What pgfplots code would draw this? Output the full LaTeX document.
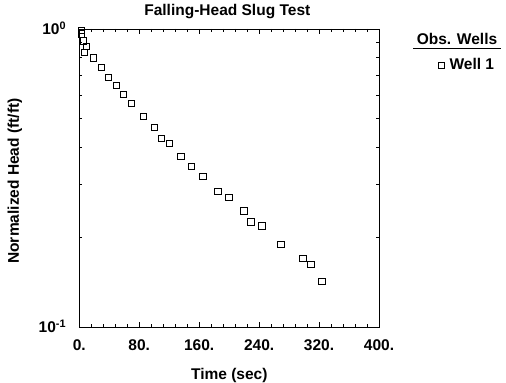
\documentclass[border=0pt]{standalone}
\usepackage{fontspec}
\setmainfont{Liberation Sans}
\usepackage{pgfplots}
\pgfplotsset{compat=1.18}
\begin{document}
\begin{tikzpicture}
\path[use as bounding box] (-79.3bp,-56bp) rectangle (426.7bp,327bp);
\begin{axis}[
  at={(0,0)}, anchor=south west,
  scale only axis, width=299.7bp, height=298bp,
  xmin=0, xmax=400, ymin=0.1, ymax=1, ymode=log,
  axis line style={line width=0.9bp, black},
  xtick={0,80,160,240,320,400},
  xticklabels={0.,80.,160.,240.,320.,400.},
  minor x tick num=4,
  ytick={0.1,1},
  yticklabels={10\textsuperscript{-1},10\textsuperscript{0}},
  minor ytick={0.2,0.3,0.4,0.5,0.6,0.7,0.8,0.9},
  tick align=inside, major tick length=5bp, minor tick length=2.7bp,
  tick style={black, line width=0.8bp},
  xticklabel style={font=\fontsize{15.5bp}{18bp}\selectfont\bfseries, anchor=base, yshift=-23bp},
  yticklabel style={font=\fontsize{15.5bp}{18bp}\selectfont\bfseries, anchor=base east, inner sep=0pt, xshift=-13bp, yshift=-5.5bp},
  legend style={draw=none, fill=none, at={(axis description cs:1.197,0.879)}, anchor=west,
    inner sep=0pt, nodes={inner sep=0pt}, font=\fontsize{15.5bp}{18bp}\selectfont\bfseries},
  legend cell align=left,
]
\addplot[only marks, mark=square, mark size=3.2bp, mark options={line width=0.9bp, black, solid},
  legend image code/.code={\draw[black, line width=0.8bp] (-3bp,-3bp) rectangle (3bp,3bp);}]
coordinates {
(2.7,0.987) (3.2,0.962) (5.9,0.913) (9.3,0.872) (6.7,0.835) (18.7,0.799)
(29.3,0.744) (38.7,0.689) (49.3,0.647) (58.7,0.604) (69.3,0.563) (85.3,0.509)
(100,0.468) (109.3,0.430) (120,0.413) (135.6,0.374) (149.3,0.346) (165.3,0.320)
(185.3,0.285) (200,0.272) (220,0.245) (229.3,0.225) (244,0.218) (269.3,0.1895)
(298.7,0.170) (309.3,0.162) (324,0.142)
};
\addlegendentry{\hspace{4.5bp}Well 1}
\end{axis}
\node[anchor=base, font=\fontsize{15.5bp}{18bp}\selectfont\bfseries] at (148bp,311.5bp) {Falling-Head Slug Test};
\node[anchor=base, font=\fontsize{15.5bp}{18bp}\selectfont\bfseries] at (150bp,-52bp) {Time (sec)};
\node[anchor=base, rotate=90, font=\fontsize{15.5bp}{18bp}\selectfont\bfseries] at (-60.3bp,146bp) {Normalized Head (ft/ft)};
\node[anchor=base, font=\fontsize{15.5bp}{18bp}\selectfont\bfseries] at (377.7bp,282.5bp) {Obs. Wells};
\draw[line width=0.9bp] (333.7bp,278.5bp) -- (421.7bp,278.5bp);
\end{tikzpicture}
\end{document}
